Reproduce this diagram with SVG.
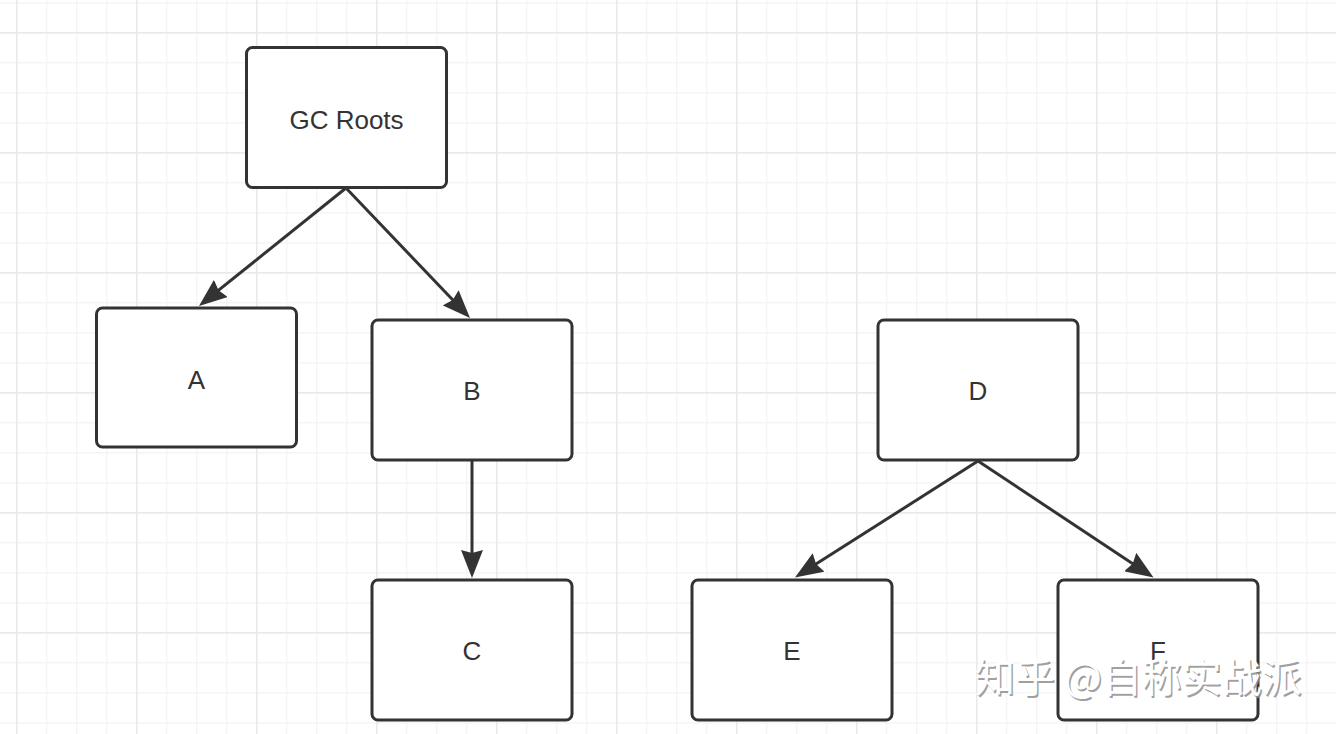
<svg xmlns="http://www.w3.org/2000/svg" width="1336" height="734" viewBox="0 0 1336 734">
<style>
.node rect{fill:#ffffff;stroke:#333333;stroke-width:3}
.node text{font-family:"Liberation Sans",Arial,sans-serif;font-size:26px;fill:#333333;text-anchor:middle}
.edge{stroke:#333333;stroke-width:3;fill:none;marker-end:url(#arrow)}
.wm{font-family:"Noto Sans CJK SC",sans-serif;font-size:40px}
</style>
<defs>
<pattern id="minor" patternUnits="userSpaceOnUse" x="16.2" y="2.2" width="30" height="30">
<path d="M0 0.5H30M0.5 0V30" stroke="#f2f2f2" stroke-width="1.4" fill="none"/>
</pattern>
<pattern id="major" patternUnits="userSpaceOnUse" x="16.2" y="32.2" width="120" height="120">
<path d="M0 0.5H120M0.5 0V120" stroke="#e6e6e6" stroke-width="1.4" fill="none"/>
</pattern>
<marker id="arrow" markerUnits="userSpaceOnUse" markerWidth="28" markerHeight="22" refX="18" refY="11" orient="auto" viewBox="0 0 28 22">
<path d="M0 0L28 11L0 22L3 11Z" fill="#333333"/>
</marker>
</defs>
<rect width="1336" height="734" fill="#ffffff"/>
<rect width="1336" height="734" fill="url(#minor)"/>
<rect width="1336" height="734" fill="url(#major)"/>
<g id="connectors">
<line class="edge" x1="346" y1="188" x2="206.8" y2="299.7"/>
<line class="edge" x1="346" y1="188" x2="463.1" y2="310.8"/>
<line class="edge" x1="472" y1="460" x2="472" y2="568"/>
<line class="edge" x1="978" y1="461" x2="803.4" y2="572.1"/>
<line class="edge" x1="978" y1="461" x2="1145.2" y2="572"/>
</g>
<g id="gcroots" class="node"><rect x="246.5" y="47.5" width="200" height="140" rx="6"/><text x="346.5" y="128.5">GC Roots</text></g>
<g id="a" class="node"><rect x="96.5" y="308" width="200" height="139" rx="6"/><text x="196.5" y="388.5">A</text></g>
<g id="b" class="node"><rect x="372" y="320" width="200" height="140" rx="6"/><text x="472" y="400">B</text></g>
<g id="c" class="node"><rect x="372" y="580" width="200" height="140" rx="6"/><text x="472" y="660">C</text></g>
<g id="d" class="node"><rect x="878" y="320" width="200" height="140" rx="6"/><text x="978" y="400">D</text></g>
<g id="e" class="node"><rect x="692" y="580" width="200" height="140" rx="6"/><text x="792" y="660">E</text></g>
<g id="f" class="node"><rect x="1058" y="580" width="200" height="140" rx="6"/><text x="1158" y="660">F</text></g>
<g id="watermark">
<text class="wm" x="976.5" y="693.5" fill="#8f8f8f" fill-opacity="0.85">知乎 @自称实战派</text>
<text class="wm" x="975" y="692" fill="#ffffff">知乎 @自称实战派</text>
</g>
</svg>
